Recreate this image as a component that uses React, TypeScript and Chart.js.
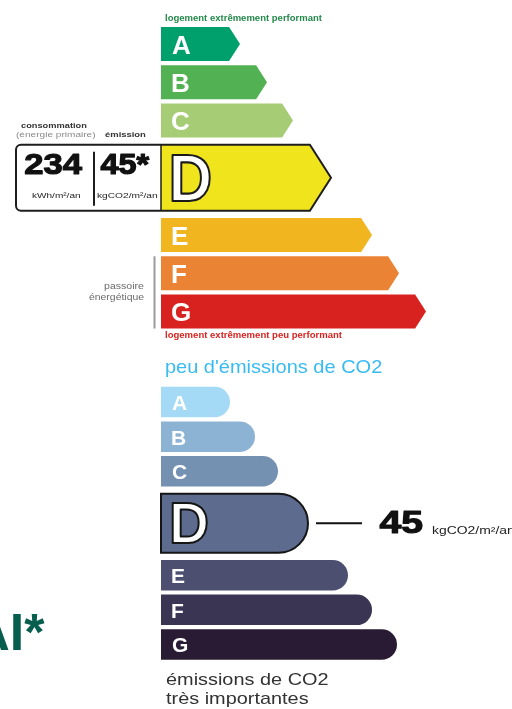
import React, { useEffect, useRef } from 'react';
import { Chart, registerables } from 'chart.js';

Chart.register(...registerables);

// ---------- DATA ----------
const classes = ['A', 'B', 'C', 'D', 'E', 'F', 'G'];
// length of each class band (scale units)
const energyBarLength = [79, 106, 132, 170, 211, 238, 265];
const gesBarLength = [69, 94, 117, 147, 187, 211, 236];
const energyRating = 'D';
const gesRating = 'D';
const consumptionValue = 234; // kWh/m²/an
const emissionValue = 45; // kgCO2/m²/an

// ---------- STYLES ----------
const energyColors = ['#00a06d', '#52b153', '#a6cd75', '#f0e51d', '#f0b51f', '#eb8335', '#d7221f'];
const gesColors = ['#a4daf6', '#8db3d4', '#7491b1', '#5d6b8e', '#4c4f70', '#3a3553', '#2a1b34'];
const FONT = '"Liberation Sans", Arial, sans-serif';

type TxtOpts = { bold?: boolean; align?: 'left' | 'center' | 'right'; width?: number; stroke?: string; lw?: number; family?: string; strokeFirst?: boolean };

// draws text so that its ink starts (or centres / ends) at x, optionally fitted to an ink width
function txt(ctx: CanvasRenderingContext2D, s: string, x: number, y: number, size: number, color: string, o: TxtOpts = {}) {
  ctx.save();
  ctx.font = `${o.bold ? 'bold ' : ''}${size}px ${o.family || FONT}`;
  ctx.textAlign = 'left';
  ctx.textBaseline = 'alphabetic';
  const m = ctx.measureText(s);
  const abl = m.actualBoundingBoxLeft || 0;
  const abr = m.actualBoundingBoxRight || m.width;
  const ink = abl + abr;
  const sx = o.width ? o.width / ink : 1;
  const w = ink * sx;
  let left = x;
  if (o.align === 'center') left = x - w / 2;
  else if (o.align === 'right') left = x - w;
  ctx.translate(left + abl * sx, y);
  ctx.scale(sx, 1);
  ctx.fillStyle = color;
  ctx.lineJoin = 'round';
  if (o.stroke && o.strokeFirst) {
    ctx.lineWidth = (o.lw || 2) / sx;
    ctx.strokeStyle = o.stroke;
    ctx.strokeText(s, 0, 0);
  }
  ctx.fillText(s, 0, 0);
  if (o.stroke && !o.strokeFirst) {
    ctx.lineWidth = (o.lw || 2) / sx;
    ctx.strokeStyle = o.stroke;
    ctx.strokeText(s, 0, 0);
  }
  ctx.restore();
}

function slotTable(lengths: number[], ratingIdx: number) {
  const labels: string[] = [];
  const data: (number | null)[] = [];
  classes.forEach((c, i) => {
    labels.push(c);
    data.push(lengths[i]);
    if (i === ratingIdx) {
      labels.push('');
      data.push(null);
    }
  });
  return { labels, data };
}

function geom(chart: any, i: number, ri: number, ratedH: number) {
  const meta = chart.getDatasetMeta(0);
  const yS = chart.scales.y;
  const s = i <= ri ? i : i + 1;
  const el: any = meta.data[s];
  const rated = i === ri;
  const cy = rated ? (yS.getPixelForValue(s) + yS.getPixelForValue(s + 1)) / 2 : el.y;
  const h = rated ? ratedH : el.height;
  return { x0: el.base, x1: el.x, cy, h, top: cy - h / 2, bot: cy + h / 2, rated };
}

const energyPlugin = {
  id: 'dpeEnergy',
  afterDatasetsDraw(chart: any) {
    const ctx: CanvasRenderingContext2D = chart.ctx;
    const ri = classes.indexOf(energyRating);
    const gA = geom(chart, 0, ri, 66);
    txt(ctx, 'logement extrêmement performant', 165, gA.top - 6.5, 9, '#23894a', { bold: true, width: 157 });

    classes.forEach((c, i) => {
      const g = geom(chart, i, ri, 66);
      const tip = (g.h / 2) * 0.64;
      const arrow = () => {
        ctx.beginPath();
        ctx.moveTo(g.x0, g.top);
        ctx.lineTo(g.x1 - tip, g.top);
        ctx.lineTo(g.x1, g.cy);
        ctx.lineTo(g.x1 - tip, g.bot);
        ctx.lineTo(g.x0, g.bot);
        ctx.closePath();
      };
      if (!g.rated) {
        arrow();
        ctx.fillStyle = energyColors[i];
        ctx.fill();
        txt(ctx, c, 172, g.cy + 9.5, 26, '#ffffff', { bold: true });
        return;
      }
      const bx = 16, r = 5;
      const outline = () => {
        ctx.beginPath();
        ctx.moveTo(bx + r, g.top);
        ctx.lineTo(g.x1 - tip, g.top);
        ctx.lineTo(g.x1, g.cy);
        ctx.lineTo(g.x1 - tip, g.bot);
        ctx.lineTo(bx + r, g.bot);
        ctx.arcTo(bx, g.bot, bx, g.bot - r, r);
        ctx.lineTo(bx, g.top + r);
        ctx.arcTo(bx, g.top, bx + r, g.top, r);
        ctx.closePath();
      };
      outline();
      ctx.fillStyle = '#ffffff';
      ctx.fill();
      arrow();
      ctx.fillStyle = energyColors[i];
      ctx.fill();
      outline();
      ctx.lineWidth = 2;
      ctx.strokeStyle = '#1e1e1e';
      ctx.lineJoin = 'miter';
      ctx.stroke();
      ctx.beginPath();
      ctx.moveTo(g.x0, g.top);
      ctx.lineTo(g.x0, g.bot);
      ctx.lineWidth = 1.5;
      ctx.stroke();
      // divider inside box
      ctx.beginPath();
      ctx.moveTo(94, g.top + 7);
      ctx.lineTo(94, g.bot - 5);
      ctx.lineWidth = 2;
      ctx.stroke();
      txt(ctx, String(consumptionValue), 25.5, g.top + 29.5, 30, '#111111', { bold: true, width: 57, stroke: '#111111', lw: 1.3 });
      txt(ctx, `${emissionValue}*`, 100.5, g.top + 29.5, 30, '#111111', { bold: true, width: 49, stroke: '#111111', lw: 1.3 });
      txt(ctx, 'kWh/m²/an', 56, g.top + 53, 8, '#222222', { align: 'center', width: 48 });
      txt(ctx, 'kgCO2/m²/an', 127, g.top + 53, 8, '#222222', { align: 'center', width: 60 });
      txt(ctx, 'consommation', 54, g.top - 17, 8, '#333333', { bold: true, align: 'center', width: 66 });
      txt(ctx, '(énergie primaire)', 56, g.top - 8, 8, '#8a8a8a', { align: 'center', width: 80 });
      txt(ctx, 'émission', 125.5, g.top - 8, 8, '#333333', { bold: true, align: 'center', width: 41 });
      txt(ctx, c, 172, g.cy + 23.5, 67, '#ffffff', { bold: true, width: 38, stroke: '#1a1a1a', lw: 2 });
    });

    const gF = geom(chart, 5, ri, 66);
    const gG = geom(chart, 6, ri, 66);
    ctx.beginPath();
    ctx.moveTo(154.5, gF.top);
    ctx.lineTo(154.5, gG.bot);
    ctx.lineWidth = 2;
    ctx.strokeStyle = '#9a9a9a';
    ctx.stroke();
    txt(ctx, 'passoire', 144, gF.bot - 1, 9, '#6b6b6b', { align: 'right', width: 40 });
    txt(ctx, 'énergétique', 144, gG.top + 5.5, 9, '#6b6b6b', { align: 'right', width: 55 });
    txt(ctx, 'logement extrêmement peu performant', 165, gG.bot + 9.5, 9, '#d7221f', { bold: true, width: 177 });
  },
};

const gesPlugin = {
  id: 'dpeGes',
  afterDatasetsDraw(chart: any) {
    const ctx: CanvasRenderingContext2D = chart.ctx;
    const ri = classes.indexOf(gesRating);
    const gA = geom(chart, 0, ri, 59);
    txt(ctx, "peu d'émissions de CO2", 166, gA.top - 13.5, 18.5, '#38bbf2', { width: 216 });

    classes.forEach((c, i) => {
      const g = geom(chart, i, ri, 59);
      const r = g.h / 2;
      const shape = () => {
        ctx.beginPath();
        ctx.moveTo(g.x0, g.top);
        ctx.lineTo(g.x1 - r, g.top);
        ctx.arcTo(g.x1, g.top, g.x1, g.top + r, r);
        ctx.lineTo(g.x1, g.bot - r);
        ctx.arcTo(g.x1, g.bot, g.x1 - r, g.bot, r);
        ctx.lineTo(g.x0, g.bot);
        ctx.closePath();
      };
      shape();
      ctx.fillStyle = gesColors[i];
      ctx.fill();
      if (!g.rated) {
        txt(ctx, c, 172, g.cy + 8, 21, '#ffffff', { bold: true });
        return;
      }
      ctx.lineWidth = 2;
      ctx.strokeStyle = '#151515';
      ctx.stroke();
      txt(ctx, c, 172, g.cy + 20, 57, '#ffffff', { bold: true, width: 35, stroke: '#151515', lw: 2 });
      ctx.beginPath();
      ctx.moveTo(g.x1 + 8, g.cy);
      ctx.lineTo(g.x1 + 54, g.cy);
      ctx.lineWidth = 2;
      ctx.strokeStyle = '#111111';
      ctx.stroke();
      txt(ctx, String(emissionValue), g.x1 + 71.5, g.cy + 9.5, 31.5, '#111111', { bold: true, width: 43, stroke: '#111111', lw: 1.4 });
      txt(ctx, 'kgCO2/m²/an', g.x1 + 124, g.cy + 11, 10, '#222222', { width: 82 });
    });

    const gG = geom(chart, 6, ri, 59);
    txt(ctx, 'émissions de CO2', 166, gG.bot + 25, 17, '#333333', { width: 162 });
    txt(ctx, 'très importantes', 166, gG.bot + 44, 17, '#333333', { width: 142 });

    // partially visible brand text on the left edge
    ctx.save();
    ctx.font = `bold 52px ${FONT}`;
    ctx.fillStyle = '#075e4e';
    ctx.textAlign = 'left';
    ctx.textBaseline = 'alphabetic';
    ctx.fillText('AI*', -27.8, 305);
    ctx.restore();
  },
};

function makeConfig(lengths: number[], rating: string, thickness: number, padding: any, plugin: any): any {
  const { labels, data } = slotTable(lengths, classes.indexOf(rating));
  return {
    type: 'bar',
    data: {
      labels,
      datasets: [{ data, backgroundColor: 'rgba(0,0,0,0)', borderWidth: 0, barThickness: thickness }],
    },
    options: {
      indexAxis: 'y',
      responsive: false,
      animation: false,
      devicePixelRatio: 1,
      events: [],
      layout: { padding },
      scales: {
        x: { display: false, min: 0, max: 300 },
        y: { display: false },
      },
      plugins: { legend: { display: false }, tooltip: { enabled: false }, title: { display: false } },
    },
    plugins: [plugin],
  };
}

export default function App() {
  const eRef = useRef<HTMLCanvasElement>(null);
  const gRef = useRef<HTMLCanvasElement>(null);

  useEffect(() => {
    const e = new Chart(
      eRef.current as HTMLCanvasElement,
      makeConfig(energyBarLength, energyRating, 34, { left: 161, right: 51, top: 25, bottom: 14.4 }, energyPlugin)
    );
    const g = new Chart(
      gRef.current as HTMLCanvasElement,
      makeConfig(gesBarLength, gesRating, 30.5, { left: 161, right: 51, top: 39.7, bottom: 47.2 }, gesPlugin)
    );
    return () => {
      e.destroy();
      g.destroy();
    };
  }, []);

  return (
    <div style={{ position: 'absolute', left: 0, top: 0, width: 512, height: 709, background: '#ffffff', overflow: 'hidden' }}>
      <canvas ref={eRef} width={512} height={345} style={{ position: 'absolute', left: 0, top: 0, width: 512, height: 345 }} />
      <canvas ref={gRef} width={512} height={364} style={{ position: 'absolute', left: 0, top: 345, width: 512, height: 364 }} />
    </div>
  );
}
